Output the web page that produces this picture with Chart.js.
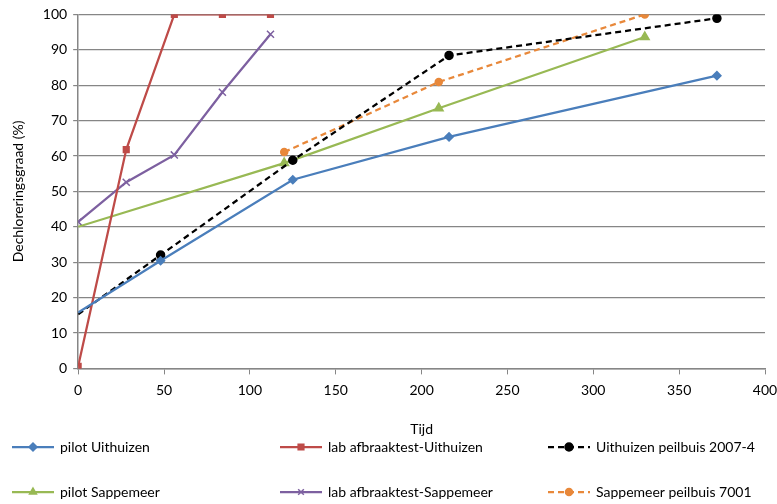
<!DOCTYPE html>
<html>
<head>
<meta charset="utf-8">
<script src="https://cdn.jsdelivr.net/npm/chart.js@4/dist/chart.umd.min.js"></script>
<style>
    html, body { margin: 0; padding: 0; background: #fff; }
    #wrap { width: 777px; height: 504px; position: relative; overflow: hidden; }
</style>
</head>
<body>
<div id="wrap"><canvas id="myChart"></canvas></div>
<script>
// x = tijd, y = dechloreringsgraad (%)
const pilotUithuizenX = [0, 48, 125, 216, 372];
const pilotUithuizenY = [15.8, 30.4, 53.3, 65.4, 82.7];

const labUithuizenX = [0, 28, 56, 84, 112];
const labUithuizenY = [0.6, 61.8, 100, 100, 100];

const peilbuisUithuizenX = [0, 48, 125, 216, 372];
const peilbuisUithuizenY = [15.3, 32.0, 58.8, 88.4, 98.9];

const pilotSappemeerX = [0, 120, 210, 330];
const pilotSappemeerY = [40, 58, 73.5, 93.6];

const labSappemeerX = [0, 28, 56, 84, 112];
const labSappemeerY = [41.4, 52.6, 60.3, 78, 94.4];

const peilbuisSappemeerX = [120, 210, 330];
const peilbuisSappemeerY = [61.1, 80.9, 100];

const xTicks = [0, 50, 100, 150, 200, 250, 300, 350, 400];
const yTicks = [0, 10, 20, 30, 40, 50, 60, 70, 80, 90, 100];

function toPoints(xs, ys) {
    return xs.map(function (x, i) { return {x: x, y: ys[i]}; });
}

const FONT = 'Lato, "Open Sans", sans-serif';

const datasets = [
    {
        label: 'pilot Uithuizen',
        data: toPoints(pilotUithuizenX, pilotUithuizenY),
        borderColor: '#4a7ebb', backgroundColor: '#4a7ebb',
        pointStyle: 'rectRot', pointRadius: [0, 4, 4, 4, 4],
        legendCol: 0, legendRow: 0
    },
    {
        label: 'lab afbraaktest-Uithuizen',
        data: toPoints(labUithuizenX, labUithuizenY),
        borderColor: '#be4b48', backgroundColor: '#be4b48',
        pointStyle: 'rect', pointRadius: 4,
        legendCol: 1, legendRow: 0
    },
    {
        label: 'Uithuizen peilbuis 2007-4',
        data: toPoints(peilbuisUithuizenX, peilbuisUithuizenY),
        borderColor: '#000000', backgroundColor: '#000000',
        borderDash: [6, 4],
        pointStyle: 'circle', pointRadius: [0, 4, 4, 4, 4],
        legendCol: 2, legendRow: 0
    },
    {
        label: 'pilot Sappemeer',
        data: toPoints(pilotSappemeerX, pilotSappemeerY),
        borderColor: '#98b954', backgroundColor: '#98b954',
        pointStyle: 'triangle', pointRadius: [0, 5, 5, 5],
        legendCol: 0, legendRow: 1
    },
    {
        label: 'lab afbraaktest-Sappemeer',
        data: toPoints(labSappemeerX, labSappemeerY),
        borderColor: '#7d60a0', backgroundColor: '#7d60a0',
        pointStyle: 'crossRot', pointRadius: 5,
        legendCol: 1, legendRow: 1
    },
    {
        label: 'Sappemeer peilbuis 7001',
        data: toPoints(peilbuisSappemeerX, peilbuisSappemeerY),
        borderColor: '#e8883a', backgroundColor: '#e8883a',
        borderDash: [6, 4],
        pointStyle: 'circle', pointRadius: 3.5,
        legendCol: 2, legendRow: 1
    }
];

datasets.forEach(function (d) {
    d.borderWidth = 2.25;
    d.pointBorderWidth = 1.5;
    d.pointBorderColor = d.borderColor;
    d.fill = false;
    d.tension = 0;
});

//Legend drawn under the axes, Excel-like
const bottomLegend = {
    id: 'bottomLegend',
    afterDraw: function (chart) {
        let ctx = chart.ctx;
        let colX = [12, 280, 548];
        let rowY = [447, 492];
        ctx.save();
        chart.data.datasets.forEach(function (d) {
            let x = colX[d.legendCol];
            let y = rowY[d.legendRow];
            ctx.strokeStyle = d.borderColor;
            ctx.lineWidth = 2.25;
            ctx.setLineDash(d.borderDash || []);
            ctx.beginPath();
            ctx.moveTo(x, y);
            ctx.lineTo(x + 42, y);
            ctx.stroke();
            ctx.setLineDash([]);
            let r = Array.isArray(d.pointRadius) ? d.pointRadius[1] : d.pointRadius;
            ctx.fillStyle = d.backgroundColor;
            ctx.lineWidth = 1.5;
            Chart.helpers.drawPoint(ctx, {
                pointStyle: d.pointStyle,
                radius: Math.min(r, 4),
                borderWidth: 1.5
            }, x + 21, y);
            ctx.fillStyle = '#000';
            ctx.font = '14px ' + FONT;
            ctx.textBaseline = 'middle';
            ctx.fillText(d.label, x + 48, y);
        });
        ctx.restore();
    }
};

Chart.defaults.font.family = FONT;
Chart.defaults.color = '#000';

new Chart(document.getElementById('myChart'), {
    type: 'line',
    data: {datasets: datasets},
    plugins: [bottomLegend],
    options: {
        responsive: true,
        maintainAspectRatio: false,
        animation: false,
        layout: {padding: {top: 12, right: 0, bottom: 62, left: 6}},
        plugins: {
            legend: {display: false},
            tooltip: {enabled: false}
        },
        scales: {
            x: {
                type: 'linear',
                min: 0, max: 400,
                afterBuildTicks: function (axis) {
                    axis.ticks = xTicks.map(function (v) { return {value: v}; });
                },
                //let the "400" label run to the edge like the original
                afterFit: function (axis) {
                    axis.paddingRight = 12;
                },
                grid: {drawOnChartArea: false, color: '#868686', tickLength: 6},
                border: {color: '#868686', width: 1.5},
                ticks: {font: {size: 14}, padding: 8, maxRotation: 0},
                title: {display: true, text: 'Tijd', font: {size: 14}, padding: {top: 14}}
            },
            y: {
                min: 0, max: 100,
                afterBuildTicks: function (axis) {
                    axis.ticks = yTicks.map(function (v) { return {value: v}; });
                },
                grid: {color: '#868686', lineWidth: 1.2, tickLength: 5},
                border: {color: '#868686', width: 1.5},
                ticks: {font: {size: 14}, padding: 6},
                title: {display: true, text: 'Dechloreringsgraad (%)', font: {size: 14}, padding: {bottom: 10}}
            }
        }
    }
});
</script>
</body>
</html>
